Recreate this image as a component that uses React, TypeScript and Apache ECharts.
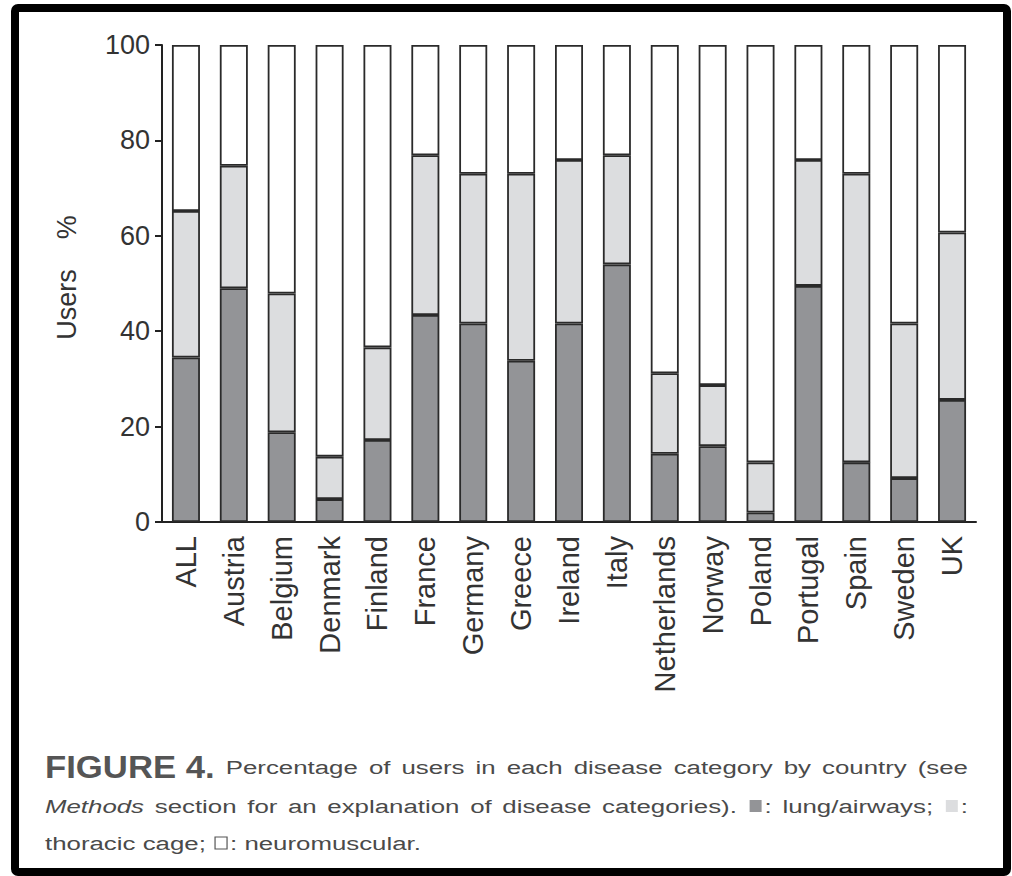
import React, { useEffect, useRef } from "react";
import * as echarts from "echarts";

const countries = ["ALL", "Austria", "Belgium", "Denmark", "Finland", "France", "Germany", "Greece", "Ireland", "Italy", "Netherlands", "Norway", "Poland", "Portugal", "Spain", "Sweden", "UK"];
const lungAirways = [34.5, 49.0, 18.8, 4.8, 17.2, 43.4, 41.6, 33.8, 41.6, 54.0, 14.3, 15.9, 2.0, 49.5, 12.5, 9.2, 25.6];
const thoracicCage = [30.7, 25.7, 29.1, 8.9, 19.4, 33.5, 31.4, 39.2, 34.3, 22.9, 16.9, 12.8, 10.5, 26.4, 60.5, 32.4, 35.1];
const neuromuscular = [34.8, 25.3, 52.1, 86.3, 63.4, 23.1, 27.0, 27.0, 24.1, 23.1, 68.8, 71.3, 87.5, 24.1, 27.0, 58.4, 39.3];
const yAxisName = "Users    %";
const captionLine1 = "Percentage of users in each disease category by country (see";
const captionLine2a = "section for an explanation of disease categories).";
const captionLine3 = "thoracic cage;";

const FONT = "Liberation Sans";
const DARK = "#939497";
const LIGHT = "#dcdddf";
const TEXT = "#4a4a4a";
const BODY_SIZE = 19;
const BODY_SX = 1.36;

type Tok = { t: string; bold?: boolean; italic?: boolean; size?: number; sx?: number; sq?: string };

function buildCaption(): any[] {
  const cv = document.createElement("canvas");
  const ctx = cv.getContext("2d")!;
  const measure = (tok: Tok) => {
    const size = tok.size || BODY_SIZE;
    const sx = tok.sx || BODY_SX;
    ctx.font = `${tok.italic ? "italic " : ""}${tok.bold ? "bold " : ""}${size}px "${FONT}"`;
    const w = ctx.measureText(tok.t).width * sx;
    return tok.sq ? w + 17 : w;
  };
  const els: any[] = [];
  const layout = (toks: Tok[], x0: number, x1: number, y: number, justify: boolean) => {
    const ws = toks.map(measure);
    const sum = ws.reduce((a, b) => a + b, 0);
    ctx.font = `${BODY_SIZE}px "${FONT}"`;
    const gap = justify ? (x1 - x0 - sum) / (toks.length - 1) : ctx.measureText(" ").width * BODY_SX;
    let x = x0;
    toks.forEach((tok, i) => {
      let tx = x;
      if (tok.sq) {
        els.push({
          type: "rect",
          x: x + 2,
          y: y - 6,
          shape: { x: 0, y: 0, width: 12, height: 12 },
          style: {
            fill: tok.sq === "open" ? "#fff" : tok.sq,
            stroke: tok.sq === "open" ? "#555" : null,
            lineWidth: 1.2,
          },
        });
        tx = x + 17;
      }
      els.push({
        type: "text",
        x: tx,
        y,
        scaleX: tok.sx || BODY_SX,
        style: {
          text: tok.t,
          fontFamily: FONT,
          fontSize: tok.size || BODY_SIZE,
          fontWeight: tok.bold ? "bold" : "normal",
          fontStyle: tok.italic ? "italic" : "normal",
          fill: tok.bold ? "#555" : TEXT,
          align: "left",
          verticalAlign: "middle",
        },
      });
      x += ws[i] + gap;
    });
  };
  const l1: Tok[] = [{ t: "FIGURE 4.", bold: true, size: 31, sx: 1.12 }, ...captionLine1.split(" ").map((t) => ({ t }))];
  const l2: Tok[] = [
    { t: "Methods", italic: true },
    ...captionLine2a.split(" ").map((t) => ({ t })),
    { t: ":", sq: DARK },
    { t: "lung/airways;" },
    { t: ":", sq: LIGHT },
  ];
  const l3: Tok[] = [...captionLine3.split(" ").map((t) => ({ t })), { t: ":", sq: "open" }, { t: "neuromuscular." }];
  layout(l1, 45, 968, 767, true);
  layout(l2, 45, 968, 806, true);
  layout(l3, 45, 968, 843, false);
  return els;
}

export default function App() {
  const ref = useRef<HTMLDivElement>(null);
  useEffect(() => {
    document.body.style.margin = "0";
    const chart = echarts.init(ref.current!, null, { renderer: "svg" });
    const barStyle = (color: string) => ({ color, borderColor: "#2a2a2a", borderWidth: 1.8 });
    chart.setOption({
      animation: false,
      backgroundColor: "#fff",
      grid: { left: 162, right: 36, top: 45, bottom: 354, containLabel: false },
      xAxis: {
        type: "category",
        data: countries,
        axisLine: { lineStyle: { color: "#222", width: 2 } },
        axisTick: { alignWithLabel: true, length: 6, lineStyle: { color: "#222", width: 2 } },
        axisLabel: { rotate: 90, fontSize: 29, fontFamily: FONT, color: "#333", margin: 14, interval: 0 },
      },
      yAxis: {
        type: "value",
        min: 0,
        max: 100,
        interval: 20,
        name: yAxisName,
        nameLocation: "middle",
        nameGap: 82,
        nameTextStyle: { fontSize: 27, fontFamily: FONT, color: "#333", padding: [0, 0, 0, 12] },
        axisLine: { show: true, lineStyle: { color: "#222", width: 2 } },
        axisTick: { show: true, length: 7, lineStyle: { color: "#222", width: 2 } },
        axisLabel: { fontSize: 27, fontFamily: FONT, color: "#333", margin: 12 },
        splitLine: { show: false },
      },
      series: [
        { name: "lung/airways", type: "bar", stack: "all", barWidth: 28, data: lungAirways, itemStyle: barStyle(DARK) },
        { name: "thoracic cage", type: "bar", stack: "all", barWidth: 28, data: thoracicCage, itemStyle: barStyle(LIGHT) },
        { name: "neuromuscular", type: "bar", stack: "all", barWidth: 28, data: neuromuscular, itemStyle: barStyle("#ffffff") },
      ],
      graphic: [
        {
          type: "rect",
          shape: { x: 15, y: 8, width: 992, height: 864, r: 3 },
          style: { fill: "none", stroke: "#000", lineWidth: 8 },
        },
        ...buildCaption(),
      ],
    });
    return () => chart.dispose();
  }, []);
  return <div ref={ref} style={{ width: 1012, height: 876 }} />;
}
